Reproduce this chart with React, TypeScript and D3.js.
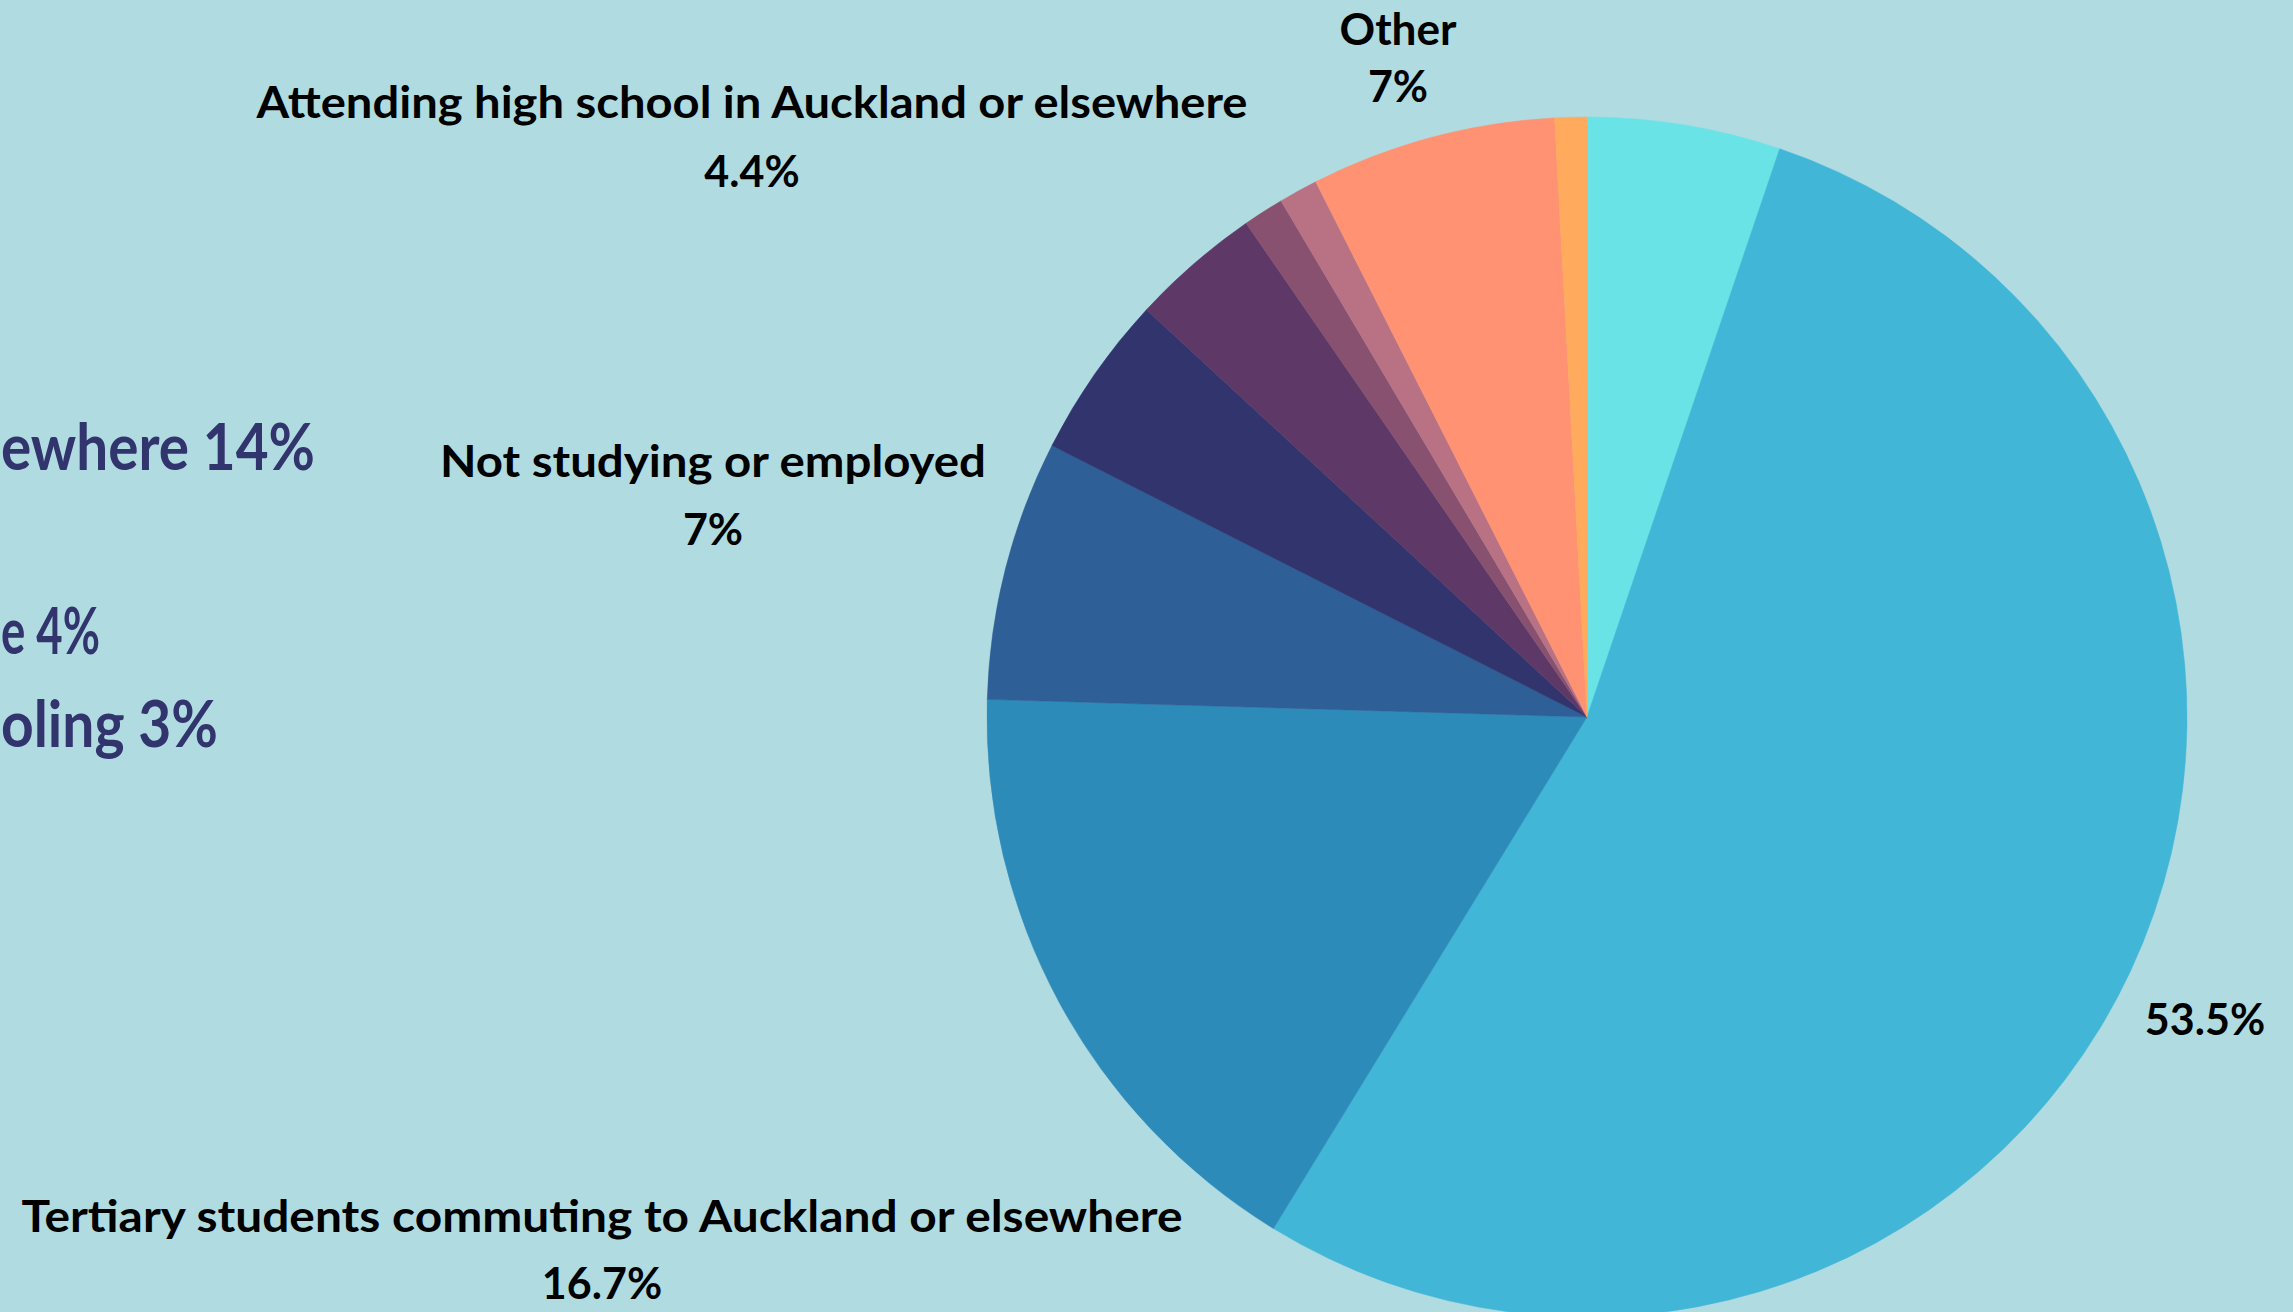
import React from "react";
import * as d3 from "d3";

// Slices, clockwise from 12 o'clock
const categories = [
  "slice1",
  "slice2",
  "Tertiary students commuting to Auckland or elsewhere",
  "Not studying or employed",
  "Attending high school in Auckland or elsewhere",
  "slice6",
  "slice7",
  "slice8",
  "Other",
  "slice10",
];
const values = [5.2, 53.5, 16.7, 7.0, 4.4, 3.5, 1.1, 1.05, 6.6, 0.86];
const colors = [
  "#6ae3e6",
  "#42b6d6",
  "#2d8bba",
  "#2e5f97",
  "#31346d",
  "#5e3866",
  "#87516f",
  "#b87284",
  "#ff9273",
  "#ffaa5c",
];
// Labels shown on the chart: [slice index, title, value text]
const labelSlices = [1, 2, 3, 4, 8];
const labelTitles = ["", "Tertiary students commuting to Auckland or elsewhere", "Not studying or employed", "Attending high school in Auckland or elsewhere", "Other"];
const labelValues = ["53.5%", "16.7%", "7%", "4.4%", "7%"];

// Partly visible text at the left edge
const sideTexts = ["ewhere 14%", "e 4%", "oling 3%"];

const W = 2293;
const H = 1312;
const BG = "#b0dbe0";
const FONT = "Lato, 'Noto Sans', sans-serif";

// layout (positions) for labels, keyed by label order
const labelLayout = [
  { x: 2205, y1: 0, y2: 1035, w: 0 },
  { x: 602, y1: 1232, y2: 1299, w: 1161 },
  { x: 713, y1: 477, y2: 545, w: 546 },
  { x: 752, y1: 118, y2: 187, w: 991 },
  { x: 1398, y1: 45, y2: 102, w: 117 },
];
const sideLayout = [
  { x: 1, y: 470, w: 314 },
  { x: 1, y: 654, w: 99 },
  { x: 1, y: 747, w: 217 },
];

export default function App() {
  const cx = 1587;
  const cy = 717;
  const r = 600;
  const pie = d3
    .pie<number>()
    .sort(null)
    .value((d) => d)
    .startAngle(0)
    .endAngle(2 * Math.PI);
  const arcs = pie(values);
  const arc = d3.arc<d3.PieArcDatum<number>>().innerRadius(0).outerRadius(r);

  return (
    <svg
      width={W}
      height={H}
      style={{ position: "fixed", left: 0, top: 0, display: "block" }}
    >
      <rect x={0} y={0} width={W} height={H} fill={BG} />
      <g transform={`translate(${cx},${cy})`}>
        {arcs.map((a, i) => (
          <path key={categories[i]} d={arc(a) || ""} fill={colors[i]} stroke={colors[i]} strokeWidth={0.5} />
        ))}
      </g>
      {labelSlices.map((si, k) => {
        const L = labelLayout[k];
        return (
          <g key={si} fontFamily={FONT} fontWeight={700} fill="#000" textAnchor="middle">
            {labelTitles[k] && (
              <text
                x={L.x}
                y={L.y1}
                fontSize={43}
                textLength={L.w}
                lengthAdjust="spacingAndGlyphs"
              >
                {labelTitles[k]}
              </text>
            )}
            <text x={L.x} y={L.y2} fontSize={43}>
              {labelValues[k]}
            </text>
          </g>
        );
      })}
      {sideTexts.map((t, i) => (
        <text
          key={t}
          x={sideLayout[i].x}
          y={sideLayout[i].y}
          textAnchor="start"
          fontFamily={FONT}
          fontWeight={700}
          fontSize={65}
          fill="#31346d"
          textLength={sideLayout[i].w}
          lengthAdjust="spacingAndGlyphs"
        >
          {t}
        </text>
      ))}
    </svg>
  );
}
